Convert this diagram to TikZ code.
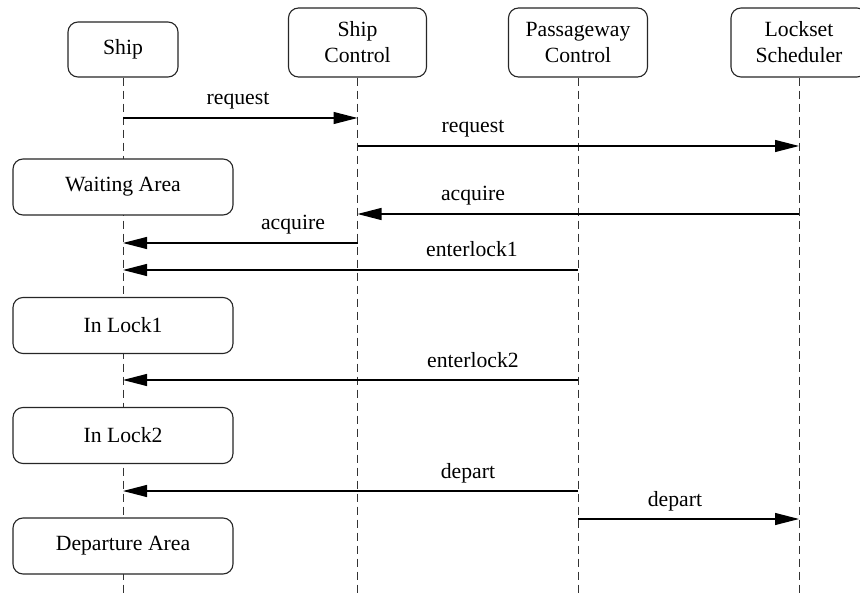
\documentclass[tikz,border=0pt]{standalone}
\usepackage{fontspec}
\setmainfont{Liberation Serif}
\usetikzlibrary{arrows.meta}
\begin{document}
\begin{tikzpicture}[x=1pt,y=-1pt,
  every node/.style={font=\fontsize{21.7}{26}\selectfont},
  header/.style={draw=black!85, line width=1.1pt, rounded corners=10pt, fill=white, align=center, inner sep=0pt},
  statebox/.style={draw=black!85, line width=1.1pt, rounded corners=10pt, fill=white, minimum width=220pt, minimum height=56pt, inner sep=0pt},
  lifeline/.style={draw=black!80, line width=1pt, dash pattern=on 8pt off 5pt},
  msg/.style={draw=black, line width=1.1pt, -{Triangle[length=24pt,width=12pt]}},
  lbl/.style={anchor=base, inner sep=0pt}]
\useasboundingbox (0,0) rectangle (860,596);
% headers
\node[header, minimum width=110pt, minimum height=55pt] (ship) at (123,49.5) {Ship};
\node[header, minimum width=138pt, minimum height=69pt] (sc) at (357.5,42.5) {Ship\\Control};
\node[header, minimum width=139pt, minimum height=69pt] (pc) at (578,42.5) {Passageway\\Control};
\node[header, minimum width=136pt, minimum height=69pt] (ls) at (799,42.5) {Lockset\\Scheduler};
% lifeline ends
\coordinate (shipE) at (123,596);
\coordinate (scE) at (357.5,596);
\coordinate (pcE) at (578,596);
\coordinate (lsE) at (799,596);
\draw[lifeline] (ship.south) -- (shipE);
\draw[lifeline] (sc.south) -- (scE);
\draw[lifeline] (pc.south) -- (pcE);
\draw[lifeline] (ls.south) -- (lsE);
% state boxes
\node[statebox] (wait) at (123,187) {Waiting Area};
\node[statebox] (lock1) at (123,325.5) {In Lock1};
\node[statebox] (lock2) at (123,435.5) {In Lock2};
\node[statebox] (dep) at (123,546) {Departure Area};
% message endpoints
\coordinate (m1a) at (123,118);   \coordinate (m1b) at (357.5,118);
\coordinate (m2a) at (357.5,146); \coordinate (m2b) at (799,146);
\coordinate (m3a) at (799,214);   \coordinate (m3b) at (357.5,214);
\coordinate (m4a) at (357.5,243); \coordinate (m4b) at (123,243);
\coordinate (m5a) at (578,270);   \coordinate (m5b) at (123,270);
\coordinate (m6a) at (578,380);   \coordinate (m6b) at (123,380);
\coordinate (m7a) at (578,491);   \coordinate (m7b) at (123,491);
\coordinate (m8a) at (578,519);   \coordinate (m8b) at (799,519);
\draw[msg] (m1a) -- (m1b);
\draw[msg] (m2a) -- (m2b);
\draw[msg] (m3a) -- (m3b);
\draw[msg] (m4a) -- (m4b);
\draw[msg] (m5a) -- (m5b);
\draw[msg] (m6a) -- (m6b);
\draw[msg] (m7a) -- (m7b);
\draw[msg] (m8a) -- (m8b);
% labels
\node[lbl] (l1) at (238,105) {request};
\node[lbl] (l2) at (473,133) {request};
\node[lbl] (l3) at (473,201) {acquire};
\node[lbl] (l4) at (293,230) {acquire};
\node[lbl] (l5) at (472,257) {enterlock1};
\node[lbl] (l6) at (473,367) {enterlock2};
\node[lbl] (l7) at (468,478) {depart};
\node[lbl] (l8) at (675,506) {depart};
\end{tikzpicture}
\end{document}
